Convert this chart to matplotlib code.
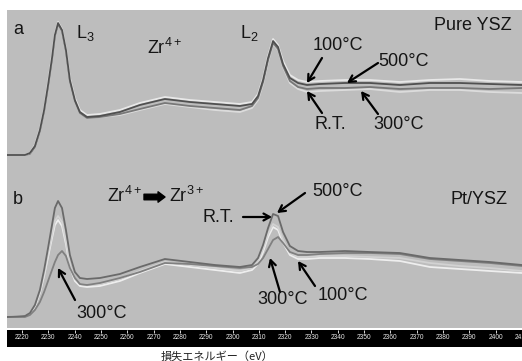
import matplotlib
matplotlib.use("Agg")
import matplotlib.pyplot as plt

# energy loss axis (eV), shared by all spectra
energy = [2214.3, 2221.1, 2223.0, 2224.9, 2226.8, 2228.4, 2229.9, 2231.4, 2232.5, 2233.7,
          2235.2, 2236.7, 2238.2, 2240.1, 2242.0, 2244.7, 2249.6, 2257.2, 2264.8, 2274.3,
          2283.8, 2293.3, 2302.8, 2307.4, 2309.7, 2311.6, 2313.5, 2315.4, 2317.3, 2319.2,
          2321.8, 2324.9, 2328.3, 2333.2, 2342.7, 2352.2, 2363.6, 2375.0, 2386.4, 2397.8,
          2410.0]

# (a) pure YSZ, intensity above its own baseline (a.u.)
a_rt = [0, 0, 1, 8, 24, 44, 69, 96, 119, 131, 124, 104, 74, 54, 42, 37, 38, 41, 46, 52,
        49, 47, 45, 49, 57, 73, 95, 112, 106, 89, 74, 68, 66, 67, 67, 68, 66, 67, 67, 66, 67]
a_100 = [0, 0, 2, 9, 25, 45, 70, 97, 120, 132, 125, 105, 75, 55, 43, 38, 39, 43, 50, 56,
         53, 51, 49, 51, 59, 75, 97, 114, 108, 91, 77, 72, 70, 71, 72, 72, 70, 72, 72, 71, 70]
a_300 = [0, 0, 1, 8, 24, 44, 69, 96, 119, 131, 124, 104, 74, 54, 42, 37, 38, 40, 45, 51,
         48, 45, 43, 47, 55, 71, 93, 111, 105, 88, 72, 66, 63, 64, 65, 66, 63, 65, 65, 63, 62]
a_500 = [0, 0, 2, 10, 26, 46, 72, 99, 121, 133, 126, 106, 77, 57, 45, 40, 41, 45, 52, 58,
         55, 53, 51, 53, 61, 77, 99, 116, 110, 94, 80, 75, 73, 74, 75, 75, 73, 75, 76, 74, 73]

# (b) Pt/YSZ
b_rt = [0, 1, 4, 12, 27, 47, 69, 92, 109, 116, 109, 87, 62, 45, 39, 38, 39, 43, 50, 58,
        55, 52, 50, 52, 59, 72, 89, 103, 101, 85, 71, 66, 65, 65, 66, 65, 64, 59, 57, 55, 52]
b_100 = [0, 1, 3, 10, 24, 41, 60, 79, 92, 97, 91, 73, 50, 36, 31, 30, 31, 36, 44, 53,
         50, 47, 44, 47, 53, 65, 80, 90, 87, 74, 62, 58, 58, 59, 59, 58, 56, 50, 48, 46, 44]
b_300 = [0, 0, 2, 7, 15, 25, 36, 47, 55, 62, 66, 61, 49, 39, 33, 32, 34, 39, 45, 54,
         53, 51, 49, 50, 53, 59, 68, 77, 80, 74, 65, 62, 62, 63, 64, 64, 63, 58, 56, 54, 51]
b_500 = [0, 1, 4, 11, 25, 43, 63, 82, 96, 101, 95, 76, 52, 38, 33, 32, 33, 38, 46, 55,
         52, 49, 46, 49, 56, 68, 83, 93, 90, 77, 64, 60, 60, 61, 61, 60, 59, 54, 51, 49, 46]

xticks = list(range(2220, 2411, 10))

plt.rcParams["font.family"] = ["Liberation Sans", "DejaVu Sans"]
plt.rcParams["mathtext.fontset"] = "custom"
plt.rcParams["mathtext.rm"] = "Liberation Sans"
plt.rcParams["mathtext.it"] = "Liberation Sans:italic"

H = 361
fig = plt.figure(figsize=(5.22, 3.61), dpi=100)
ax = fig.add_axes([7 / 522, (H - 328) / H, 515 / 522, 318 / H])
bar = fig.add_axes([7 / 522, (H - 347) / H, 515 / 522, 17 / H])

ax.set_facecolor("#bdbdbd")
off_a, off_b = 173, 11
for ys, c in [(a_300, "#dcdcdc"), (a_rt, "#787878"), (a_500, "#e8e8e8"), (a_100, "#505050")]:
    ax.plot(energy, [v + off_a for v in ys], color=c, lw=1.3)
for ys, c in [(b_100, "#eeeeee"), (b_500, "#d2d2d2"), (b_300, "#808080"), (b_rt, "#6a6a6a")]:
    ax.plot(energy, [v + off_b for v in ys], color=c, lw=1.3)
ax.set_xlim(2214.3, 2410.0)
ax.set_ylim(0, 318)
ax.set_xticks([])
ax.set_yticks([])
for s in ax.spines.values():
    s.set_visible(False)

bar.set_facecolor("black")
bar.set_xlim(2214.3, 2410.0)
bar.set_yticks([])
bar.set_xticks(xticks)
bar.tick_params(axis="x", top=True, bottom=False, labeltop=True, labelbottom=False,
                direction="in", length=2, width=0.6, color="white", pad=-8,
                labelcolor="#e8e8e8", labelsize=4.8)
for s in bar.spines.values():
    s.set_visible(False)

fs = 13


def px(x, y):
    return (x, H - y)


def label(x, y, s, ha="left"):
    fig.text(x / 522, (H - y) / H, s, ha=ha, va="center", fontsize=fs, color="#151515")


def arrow(x0, y0, x1, y1, style="->,head_length=0.45,head_width=0.25", lw=1.6):
    ax.annotate("", xy=px(x1, y1), xycoords="figure pixels", xytext=px(x0, y0),
                textcoords="figure pixels",
                arrowprops=dict(arrowstyle=style, lw=lw, color="black", shrinkA=0, shrinkB=0))


# panel a
label(18, 29, "a", ha="center")
label(76, 33, "L$_3$")
label(147, 48, "Zr$^{4+}$")
label(240, 33, "L$_2$")
label(512, 25, "Pure YSZ", ha="right")
label(313, 46, "100°C")
label(378, 61, "500°C")
label(315, 124, "R.T.")
label(373, 124, "300°C")
arrow(322, 58, 307, 83)
arrow(378, 63, 347, 83)
arrow(322, 113, 307, 91)
arrow(378, 114, 361, 91)

# panel b
label(18, 199, "b", ha="center")
label(107, 196, "Zr$^{4+}$")
label(169, 196, "Zr$^{3+}$")
ax.annotate("", xy=px(165, 197), xycoords="figure pixels", xytext=px(144, 197),
            textcoords="figure pixels",
            arrowprops=dict(arrowstyle="simple,head_length=0.5,head_width=0.75,tail_width=0.4",
                            color="black", shrinkA=0, shrinkB=0, mutation_scale=10))
label(202, 218, "R.T.")
label(312, 192, "500°C")
label(508, 199, "Pt/YSZ", ha="right")
label(257, 300, "300°C")
label(318, 295, "100°C")
label(76, 313, "300°C")
arrow(243, 217, 272, 217)
arrow(305, 193, 277, 213)
arrow(280, 292, 270, 258)
arrow(315, 286, 298, 261)
arrow(75, 300, 58, 268)

fig.text(217 / 522, (H - 356) / H, "損失エネルギー（eV）", ha="center", va="center", fontsize=8,
         family=["Noto Sans CJK JP", "DejaVu Sans"], color="#222222")

fig.savefig("out.png", dpi=100, facecolor="white")
